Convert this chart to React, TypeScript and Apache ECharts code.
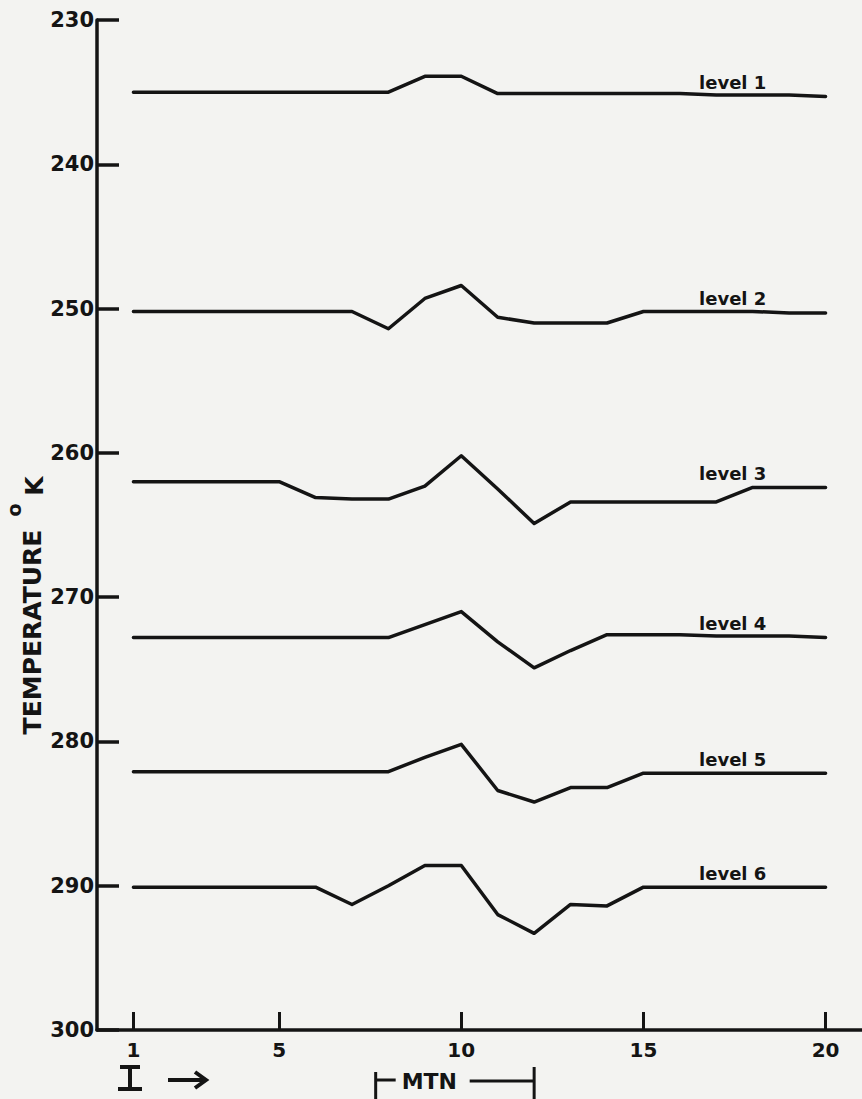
import React, { useEffect, useRef } from "react";
import * as echarts from "echarts";

// Grid point index I along the cross-section
const iPoints = [1, 2, 3, 4, 5, 6, 7, 8, 9, 10, 11, 12, 13, 14, 15, 16, 17, 18, 19, 20];

// Temperature (°K) at each I for the six model levels
const level1 = [235.0, 235.0, 235.0, 235.0, 235.0, 235.0, 235.0, 235.0, 233.9, 233.9, 235.1, 235.1, 235.1, 235.1, 235.1, 235.1, 235.2, 235.2, 235.2, 235.3];
const level2 = [250.2, 250.2, 250.2, 250.2, 250.2, 250.2, 250.2, 251.4, 249.3, 248.4, 250.6, 251.0, 251.0, 251.0, 250.2, 250.2, 250.2, 250.2, 250.3, 250.3];
const level3 = [262.0, 262.0, 262.0, 262.0, 262.0, 263.1, 263.2, 263.2, 262.3, 260.2, 262.5, 264.9, 263.4, 263.4, 263.4, 263.4, 263.4, 262.4, 262.4, 262.4];
const level4 = [272.8, 272.8, 272.8, 272.8, 272.8, 272.8, 272.8, 272.8, 271.9, 271.0, 273.1, 274.9, 273.7, 272.6, 272.6, 272.6, 272.7, 272.7, 272.7, 272.8];
const level5 = [282.1, 282.1, 282.1, 282.1, 282.1, 282.1, 282.1, 282.1, 281.1, 280.2, 283.4, 284.2, 283.2, 283.2, 282.2, 282.2, 282.2, 282.2, 282.2, 282.2];
const level6 = [290.1, 290.1, 290.1, 290.1, 290.1, 290.1, 291.3, 290.0, 288.6, 288.6, 292.0, 293.3, 291.3, 291.4, 290.1, 290.1, 290.1, 290.1, 290.1, 290.1];

const levels = [level1, level2, level3, level4, level5, level6];
const levelNames = ["level 1", "level 2", "level 3", "level 4", "level 5", "level 6"];

// Axis ticks
const xTicks = [1, 5, 10, 15, 20];
const yMin = 230;
const yMax = 300;
const yStep = 10;

// Mountain extent along I
const mtnStart = 7.65;
const mtnEnd = 12;

// Where the level names sit along I
const labelAt = 17.45;

const INK = "#141414";
const FONT = "DejaVu Sans";

export default function App() {
  const ref = useRef<HTMLDivElement>(null);

  useEffect(() => {
    if (!ref.current) return;
    const chart = echarts.init(ref.current, null, { renderer: "svg" });

    const series = levels.map((vals, k) => ({
      type: "line",
      name: levelNames[k],
      data: iPoints.map((i, j) => [i, vals[j]]),
      symbol: "none",
      lineStyle: { color: INK, width: 3.5, join: "round", cap: "round" },
      markPoint: {
        symbol: "circle",
        symbolSize: 0,
        silent: true,
        data: [
          {
            coord: [labelAt, vals[vals.length - 1]],
            label: {
              show: true,
              position: "top",
              distance: 5,
              formatter: levelNames[k],
              color: INK,
              fontFamily: FONT,
              fontWeight: "bold",
              fontSize: 18,
            },
          },
        ],
      },
    }));

    chart.setOption({
      animation: false,
      backgroundColor: "#f3f3f1",
      grid: { left: 97, right: 0, top: 20, bottom: 69, containLabel: false },
      xAxis: {
        type: "value",
        min: 0,
        max: 21,
        axisLine: { onZero: false, lineStyle: { color: INK, width: 3.5 } },
        axisTick: { inside: true, length: 18, customValues: xTicks, lineStyle: { color: INK, width: 3 } },
        axisLabel: {
          customValues: xTicks,
          margin: 10,
          color: INK,
          fontFamily: FONT,
          fontWeight: "bold",
          fontSize: 20,
        },
        splitLine: { show: false },
      },
      yAxis: {
        type: "value",
        inverse: true,
        min: yMin,
        max: yMax,
        interval: yStep,
        axisLine: { show: true, onZero: false, lineStyle: { color: INK, width: 3.5 } },
        axisTick: { show: true, inside: true, length: 22, lineStyle: { color: INK, width: 3.5 } },
        axisLabel: {
          margin: 3,
          color: INK,
          fontFamily: FONT,
          fontWeight: "bold",
          fontSize: 21,
        },
        splitLine: { show: false },
      },
      series,
    });

    // Annotations below the axis: index direction and the mountain span
    const [mx0] = chart.convertToPixel({ gridIndex: 0 }, [mtnStart, yMax]);
    const [mx1] = chart.convertToPixel({ gridIndex: 0 }, [mtnEnd, yMax]);
    const by = 1080;
    const textStyle = { fill: INK, fontFamily: FONT, fontWeight: "bold" };
    const stroke = { stroke: INK, lineWidth: 3 };

    chart.setOption({
      graphic: [
        // y-axis title, reading upward
        {
          type: "text",
          x: 32,
          y: 632,
          rotation: Math.PI / 2,
          style: { ...textStyle, text: "TEMPERATURE", fontSize: 25, align: "center", verticalAlign: "middle" },
        },
        {
          type: "text",
          x: 14,
          y: 510,
          rotation: Math.PI / 2,
          style: { ...textStyle, text: "o", fontSize: 19, align: "center", verticalAlign: "middle" },
        },
        {
          type: "text",
          x: 34,
          y: 486,
          rotation: Math.PI / 2,
          style: { ...textStyle, text: "K", fontSize: 25, align: "center", verticalAlign: "middle" },
        },
        // index symbol I with its arrow
        { type: "line", shape: { x1: 120, y1: 1067, x2: 140, y2: 1067 }, style: { stroke: INK, lineWidth: 4 } },
        { type: "line", shape: { x1: 130, y1: 1067, x2: 130, y2: 1089 }, style: { stroke: INK, lineWidth: 4 } },
        { type: "line", shape: { x1: 118, y1: 1089, x2: 142, y2: 1089 }, style: { stroke: INK, lineWidth: 4 } },
        { type: "line", shape: { x1: 168, y1: by, x2: 204, y2: by }, style: { stroke: INK, lineWidth: 4 } },
        {
          type: "polyline",
          shape: { points: [[195, by - 8], [206, by], [195, by + 8]] },
          style: { stroke: INK, lineWidth: 4, fill: null, lineJoin: "miter" },
        },
        // MTN bracket
        { type: "line", shape: { x1: mx0, y1: by - 8, x2: mx0, y2: 1099 }, style: stroke },
        { type: "line", shape: { x1: mx0, y1: by, x2: mx0 + 20, y2: by }, style: stroke },
        {
          type: "text",
          x: mx0 + 26,
          y: by + 1,
          style: { ...textStyle, text: "MTN", fontSize: 22, align: "left", verticalAlign: "middle" },
        },
        { type: "line", shape: { x1: mx0 + 94, y1: by + 1, x2: mx1, y2: by + 1 }, style: stroke },
        { type: "line", shape: { x1: mx1, y1: by - 13, x2: mx1, y2: 1099 }, style: stroke },
      ],
    });

    return () => chart.dispose();
  }, []);

  return (
    <div
      ref={ref}
      style={{ position: "absolute", left: 0, top: 0, width: 862, height: 1099 }}
    />
  );
}
